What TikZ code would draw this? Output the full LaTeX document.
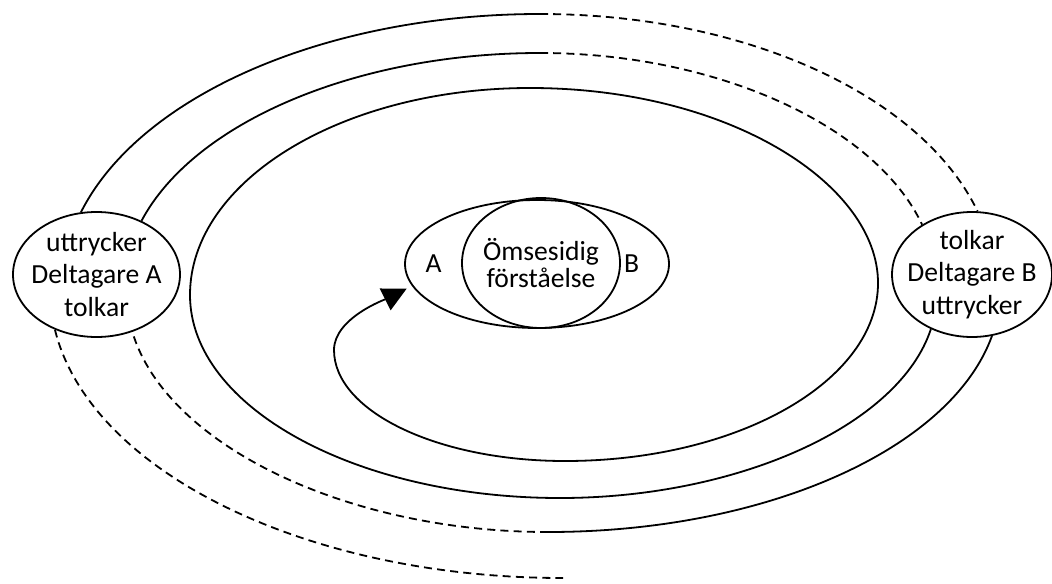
\documentclass[tikz,border=0pt]{standalone}
\usepackage{fontspec}
\setmainfont{Carlito}
\usetikzlibrary{arrows.meta,shapes.geometric}

\begin{document}
\begin{tikzpicture}[
    x=0.5pt, y=-0.5pt,
    font=\fontsize{13.8}{16.4}\selectfont,
    linje/.style={draw=black, line width=0.9pt},
    streck/.style={linje, dash pattern=on 4pt off 2.6pt},
    delt/.style={ellipse, linje, align=center, inner sep=-4pt,
                 minimum width=83.5pt, minimum height=62.5pt},
    pil/.style={linje, -{Triangle[length=12pt,width=12pt]}, shorten >=3pt}
  ]
  \useasboundingbox (0,0) rectangle (1052,583);

  % deltagarna
  \node[delt] (deltA) at (96.5,274.5) {uttrycker\\Deltagare A\\tolkar};
  \node[delt, minimum width=79pt] (deltB) at (972,274.5) {tolkar\\Deltagare B\\uttrycker};

  % mitten
  \node[ellipse, linje, minimum width=132pt, minimum height=64pt] (mitt) at (537,264) {};
  \node[ellipse, linje, align=center, inner sep=-2pt, minimum width=79pt, minimum height=65pt,
        font=\fontsize{13.8}{13.6}\selectfont] (forst) at (541,263) {Ömsesidig\\förståelse};
  \node (bokA) at (433.5,264) {A};
  \node (bokB) at (631.5,264) {B};

  \coordinate (topp1) at (540,14);
  \coordinate (topp2) at (540,53);
  \coordinate (botten4) at (548,532);
  \coordinate (slut5) at (563,578);

  % A uttrycker, B tolkar
  \draw[linje] (deltA.104) .. controls (140,95) and (327,14) .. (topp1);
  \draw[streck] (topp1) .. controls (743,14) and (921,94) .. (deltB.85);
  \draw[linje] (deltA.50) .. controls (194,122) and (357,53) .. (topp2);
  \draw[streck] (topp2) .. controls (716,53) and (875,125) .. (deltB.135);

  % B uttrycker, A tolkar
  \draw[linje] (deltB.288) .. controls (951,449) and (766,532) .. (botten4);
  \draw[streck] (botten4) .. controls (347,532) and (166,445) .. (deltA.302);
  \draw[streck] (deltA.233) .. controls (90,472) and (307,578) .. (slut5);

  % spiralen in mot mitten
  \draw[pil] (deltB.233) .. controls (899,426) and (737,498) .. (560,498)
    .. controls (356,498) and (190,407) .. (190,295)
    .. controls (190,181) and (342,88) .. (530,88)
    .. controls (730,88) and (878,185) .. (878,283)
    .. controls (878,381) and (738,461) .. (565,461)
    .. controls (437,461) and (334,411) .. (334,350)
    .. controls (334,318) and (386,299) .. (mitt.190);
\end{tikzpicture}
\end{document}
